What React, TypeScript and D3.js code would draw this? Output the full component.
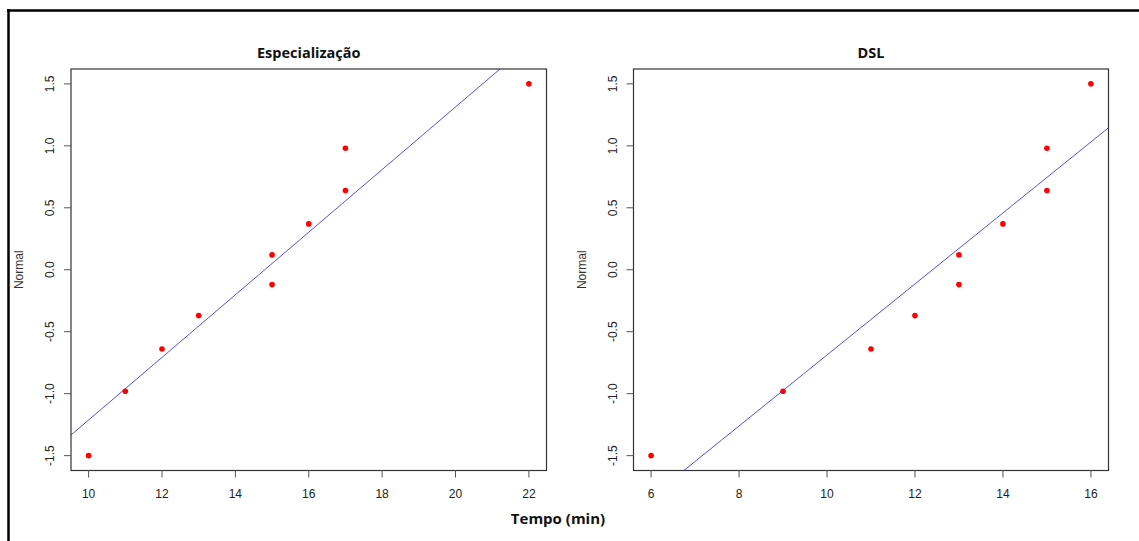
import React from "react";
import * as d3 from "d3";

const normalScores = [-1.5, -0.98, -0.64, -0.37, -0.12, 0.12, 0.37, 0.64, 0.98, 1.5];
const tempoEspecializacao = [10, 11, 12, 13, 15, 15, 16, 17, 17, 22];
const tempoDSL = [6, 9, 11, 12, 13, 13, 14, 15, 15, 16];
const xTicksEsp = [10, 12, 14, 16, 18, 20, 22];
const xTicksDSL = [6, 8, 10, 12, 14, 16];
const yTicks = [-1.5, -1.0, -0.5, 0.0, 0.5, 1.0, 1.5];
const panelTitles = ["Especialização", "DSL"];
const xAxisTitle = "Tempo (min)";
const yAxisTitle = "Normal";

const W = 1139;
const H = 541;
const TOP = 69;
const BOTTOM = 470.5;
const TICK_FONT = "'Liberation Sans', Arial, sans-serif";
const TITLE_FONT = "'Open Sans', 'DejaVu Sans', sans-serif";

function extend(ext: [number, number]): [number, number] {
  const d = (ext[1] - ext[0]) * 0.04;
  return [ext[0] - d, ext[1] + d];
}

function Panel({ xs, ys, xTicks, title, left, right, id }: any) {
  const xDom = extend(d3.extent(xs) as [number, number]);
  const yDom = extend(d3.extent(ys) as [number, number]);
  const x = d3.scaleLinear().domain(xDom).range([left, right]);
  const y = d3.scaleLinear().domain(yDom).range([BOTTOM, TOP]);
  // least squares fit of normal score on time
  const mx = d3.mean(xs) as number;
  const my = d3.mean(ys) as number;
  let sxy = 0, sxx = 0;
  xs.forEach((v: number, i: number) => {
    sxy += (v - mx) * (ys[i] - my);
    sxx += (v - mx) * (v - mx);
  });
  const b = sxy / sxx;
  const a = my - b * mx;
  const lineGen = d3.line<number>().x((v) => x(v)).y((v) => y(a + b * v));
  const cx = (left + right) / 2;
  return (
    <g>
      <defs>
        <clipPath id={id}>
          <rect x={left} y={TOP} width={right - left} height={BOTTOM - TOP} />
        </clipPath>
      </defs>
      <text x={cx} y={58} textAnchor="middle" fontFamily={TITLE_FONT} fontWeight="bold" fontSize={14.5} fill="#111">
        {title}
      </text>
      <path d={lineGen(xDom) || ""} stroke="#3b3bff" strokeWidth={0.9} fill="none" clipPath={`url(#${id})`} />
      {xs.map((v: number, i: number) => (
        <circle key={i} cx={x(v)} cy={y(ys[i])} r={2.8} fill="#ff0000" />
      ))}
      <rect x={left} y={TOP} width={right - left} height={BOTTOM - TOP} fill="none" stroke="#333" strokeWidth={1.2} />
      {xTicks.map((t: number) => (
        <g key={t}>
          <line x1={x(t)} x2={x(t)} y1={BOTTOM} y2={BOTTOM + 7} stroke="#555" strokeWidth={1} />
          <text x={x(t)} y={498} textAnchor="middle" fontFamily={TICK_FONT} fontSize={12} fill="#222">
            {t}
          </text>
        </g>
      ))}
      {yTicks.map((t: number) => (
        <g key={t}>
          <line x1={left - 7} x2={left} y1={y(t)} y2={y(t)} stroke="#555" strokeWidth={1} />
          <text
            transform={`translate(${left - 17},${y(t)}) rotate(-90)`}
            textAnchor="middle"
            fontFamily={TICK_FONT}
            fontSize={12}
            fill="#222"
          >
            {t.toFixed(1)}
          </text>
        </g>
      ))}
      <text
        transform={`translate(${left - 48},${(TOP + BOTTOM) / 2}) rotate(-90)`}
        textAnchor="middle"
        fontFamily={TICK_FONT}
        fontSize={12}
        fill="#333"
      >
        {yAxisTitle}
      </text>
    </g>
  );
}

export default function App() {
  return (
    <svg width={W} height={H} style={{ position: "absolute", left: 0, top: 0, background: "#fff" }}>
      <rect x={0} y={0} width={W} height={H} fill="#fff" />
      <line x1={8.5} x2={8.5} y1={9} y2={H} stroke="#000" strokeWidth={2.5} />
      <line x1={7} x2={W} y1={10.5} y2={10.5} stroke="#000" strokeWidth={2.5} />
      <Panel xs={tempoEspecializacao} ys={normalScores} xTicks={xTicksEsp} title={panelTitles[0]} left={71} right={546.5} id="c1" />
      <Panel xs={tempoDSL} ys={normalScores} xTicks={xTicksDSL} title={panelTitles[1]} left={633.5} right={1108.5} id="c2" />
      <text x={558} y={524} textAnchor="middle" fontFamily={TITLE_FONT} fontWeight="bold" fontSize={15} fill="#111">
        {xAxisTitle}
      </text>
    </svg>
  );
}
